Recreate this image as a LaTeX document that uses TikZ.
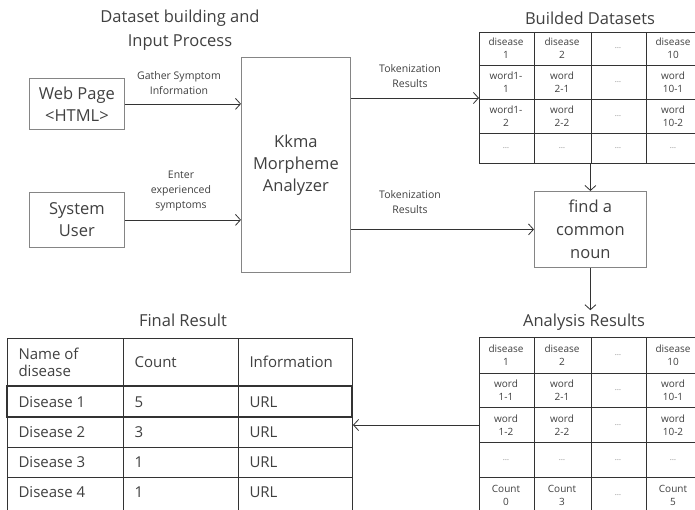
\documentclass[tikz,border=0pt]{standalone}
\usepackage{fontspec}
\setmainfont{Open Sans}
\usetikzlibrary{arrows.meta, positioning}
\definecolor{inkgray}{HTML}{333333}
\definecolor{textgray}{HTML}{404040}
\definecolor{boxgray}{HTML}{858585}
\definecolor{dotgray}{HTML}{8C8C8C}

\begin{document}
\begin{tikzpicture}[x=1pt, y=-1pt,
    procbox/.style={draw=boxgray, line width=0.8pt, align=center, text=textgray, inner sep=0pt,
        font=\fontsize{16.5}{22}\selectfont},
    flow/.style={draw=inkgray, line width=0.8pt, -{Straight Barb[length=5pt, width=11pt]}},
    flowlabel/.style={align=center, text=textgray, font=\fontsize{10.5}{15}\selectfont},
    heading/.style={align=center, text=textgray, font=\fontsize{16.5}{24}\selectfont},
    tableframe/.style={draw=inkgray, line width=1pt, inner sep=0pt, anchor=north west},
    gridline/.style={draw=inkgray, line width=1pt},
    cell/.style={align=center, text=textgray, font=\fontsize{10}{13}\selectfont},
    bigcell/.style={anchor=west, align=left, text=textgray, font=\fontsize{15}{17}\selectfont}]
        % Define dimensions
        \useasboundingbox (0,0) rectangle (695,509);
        \fill[white] (0,0) rectangle (695,509);
        \clip (0,0) rectangle (695,509);
        \def\dotcell{\textcolor{dotgray}{\fontsize{8}{13}\selectfont …}}
        % Headings
        \node[heading] (inputtitle) at (180,30) {Dataset building and\\Input Process};
        \node[heading] (builttitle) at (590,18) {Builded Datasets};
        \node[heading] (analysistitle) at (584,322) {Analysis Results};
        \node[heading] (finaltitle) at (183,320) {Final Result};
        % Process boxes
        \node[procbox, minimum width=95, minimum height=51, anchor=north west] (web) at (29,78) {Web Page\\<HTML>};
        \node[procbox, minimum width=95, minimum height=55, anchor=north west] (user) at (29,192) {System\\User};
        \node[procbox, minimum width=109, minimum height=215, anchor=north west] (kkma) at (241,57) {Kkma\\Morpheme\\Analyzer};
        \node[procbox, minimum width=112, minimum height=76, anchor=north west,
            font=\fontsize{16.5}{23}\selectfont] (noun) at (534,191) {find a\\common\\noun};
        % Builded Datasets table
        \node[tableframe, minimum width=222, minimum height=131] (built) at (479,32) {};
        \foreach \x in {534,591,646}
            \draw[gridline] (\x,32) -- (\x,163);
        \foreach \y in {65,99,133}
            \draw[gridline] (479,\y) -- (701,\y);
        \foreach \cx/\cy/\txt in {506/48/{disease\\1}, 562/48/{disease\\2}, 618/48/\dotcell, 673/48/{disease\\10},
                                   506/82/{word1-\\1}, 562/82/{word\\2-1}, 618/82/\dotcell, 673/82/{word\\10-1},
                                   506/116/{word1-\\2}, 562/116/{word\\2-2}, 618/116/\dotcell, 673/116/{word\\10-2},
                                   506/148/\dotcell, 562/148/\dotcell, 618/148/\dotcell, 673/148/\dotcell}
            \node[cell] at (\cx,\cy) {\txt};
        % Analysis Results table
        \node[tableframe, minimum width=222, minimum height=175] (analysis) at (479,337) {};
        \foreach \x in {534,591,646}
            \draw[gridline] (\x,337) -- (\x,512);
        \foreach \y in {373,407,442,477}
            \draw[gridline] (479,\y) -- (701,\y);
        \foreach \cx/\cy/\txt in {506/355/{disease\\1}, 562/355/{disease\\2}, 618/355/\dotcell, 673/355/{disease\\10},
                                   506/390/{word\\1-1}, 562/390/{word\\2-1}, 618/390/\dotcell, 673/390/{word\\10-1},
                                   506/425/{word\\1-2}, 562/425/{word\\2-2}, 618/425/\dotcell, 673/425/{word\\10-2},
                                   506/460/\dotcell, 562/460/\dotcell, 618/460/\dotcell, 673/460/\dotcell,
                                   506/495/{Count\\0}, 562/495/{Count\\3}, 618/495/\dotcell, 673/495/{Count\\5}}
            \node[cell] at (\cx,\cy) {\txt};
        % Final Result table
        \node[tableframe, minimum width=345, minimum height=173] (final) at (7,338) {};
        \foreach \x in {123,238}
            \draw[gridline] (\x,338) -- (\x,511);
        \foreach \y in {417,447,477}
            \draw[gridline] (7,\y) -- (352,\y);
        \draw[inkgray, line width=2.2pt] (7,386) rectangle (352,417);
        \node[bigcell] at (15,362) {Name of\\disease};
        \node[bigcell] at (131,362) {Count};
        \node[bigcell] at (246,362) {Information};
        \foreach \row/\cy/\num in {1/402/5, 2/432/3, 3/462/1, 4/492/1} {
            \node[bigcell] at (15,\cy) {Disease \row};
            \node[bigcell] at (131,\cy) {\num};
            \node[bigcell] at (246,\cy) {URL};
        }
        % Connectors
        \draw[flow] (web.east) -- (web.east -| kkma.west);
        \draw[flow] (user.east) -- (user.east -| kkma.west);
        \draw[flow] (kkma.east |- built.west) -- (built.west);
        \draw[flow] (kkma.east |- noun.west) -- (noun.west);
        \draw[flow] (built.south) -- (noun.north);
        \draw[flow] (noun.south) -- (noun.south |- analysistitle.north);
        \draw[flow] (analysis.west) -- (analysis.west -| final.east);
        % Connector labels
        \node[flowlabel] (gatherlbl) at (179,83) {Gather Symptom\\Information};
        \node[flowlabel] (enterlbl) at (181,191) {Enter\\experienced\\symptoms};
        \node[flowlabel] (tokenlbl) at (410,76) {Tokenization\\Results};
        \node[flowlabel] (tokenlbltwo) at (410,202) {Tokenization\\Results};
    \end{tikzpicture}
\end{document}
